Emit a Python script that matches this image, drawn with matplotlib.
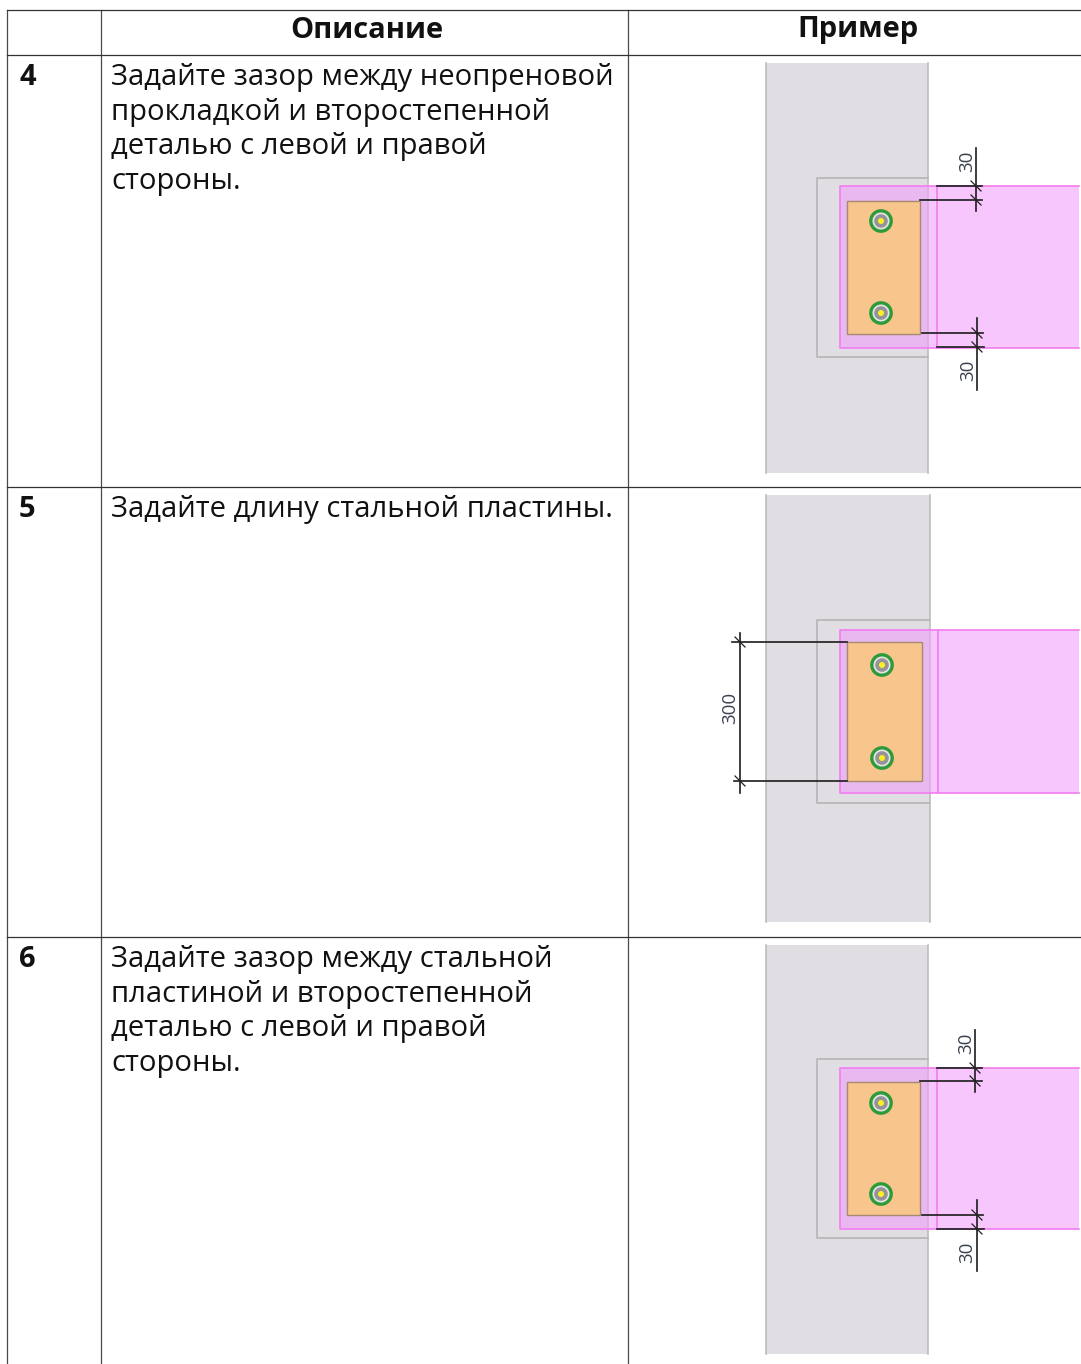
import matplotlib
matplotlib.use("Agg")
import matplotlib.pyplot as plt
from matplotlib.patches import Rectangle, Circle

plt.rcParams['font.family'] = ['Open Sans', 'Noto Sans', 'DejaVu Sans']

W, H = 1081, 1364

# --- TABLE DATA ---
headers = ["Описание", "Пример"]
row_numbers = ["4", "5", "6"]
row_texts = [
    "Задайте зазор между неопреновой\nпрокладкой и второстепенной\nдеталью с левой и правой\nстороны.",
    "Задайте длину стальной пластины.",
    "Задайте зазор между стальной\nпластиной и второстепенной\nдеталью с левой и правой\nстороны.",
]
col_lines = [7, 101, 628]
row_lines = [10, 55, 487, 937]
text_tops = [63, 495, 945]

# --- DRAWING DATA (x0, x1, y0, y1 in image pixels) ---
concrete = [(766, 928, 63, 473), (766, 930, 495, 922), (766, 928, 945, 1354)]
outer = [(817, 928, 178, 357), (817, 929, 620, 803), (817, 928, 1059, 1238)]
beam = [(840, 1079, 186, 348), (840, 1079, 630, 793), (840, 1079, 1068, 1229)]
beam_end = [937, 938, 937]
plate = [(847, 920, 201, 334), (847, 922, 642, 781), (847, 920, 1082, 1215)]
bolts = [(881, 221), (881, 313), (882, 665), (882, 758), (881, 1103), (881, 1194)]

# dimension lines: vertical (x, y0, y1), extension lines (y, x0, x1)
dim_vert = [(976, 148, 211), (977, 318, 390), (740, 633, 793), (975, 1030, 1092), (977, 1200, 1271)]
dim_ext = [(186, 937, 982), (200, 920, 982), (333, 922, 983), (347, 937, 984),
           (642, 732, 847), (781, 734, 847),
           (1068, 937, 982), (1081, 920, 982), (1215, 922, 983), (1229, 937, 984)]
dim_ticks = [(976, 186), (976, 200), (977, 333), (977, 347), (740, 642), (740, 781),
             (975, 1068), (975, 1081), (977, 1215), (977, 1229)]
dim_labels = [("30", 967, 161), ("30", 968, 370), ("300", 730, 708), ("30", 966, 1043), ("30", 967, 1252)]

fig = plt.figure(figsize=(W / 100, H / 100), dpi=100)
ax = fig.add_axes([0, 0, 1, 1])
ax.set_xlim(0, W)
ax.set_ylim(H, 0)
ax.axis('off')


def caja(r, **kw):
    return Rectangle((r[0], r[2]), r[1] - r[0], r[3] - r[2], **kw)


# tabla
for x in col_lines:
    ax.plot([x, x], [row_lines[0], H], color='#4a4a4a', lw=0.9, zorder=1)
for y in row_lines:
    ax.plot([col_lines[0], W], [y, y], color='#333333', lw=0.9, zorder=1)

ax.text(367, 30, headers[0], fontsize=21, fontweight='bold', ha='center', va='center', color='#111111')
ax.text(858, 30, headers[1], fontsize=21, fontweight='bold', ha='center', va='center', color='#111111')

for i in range(3):
    ax.text(19, text_tops[i], row_numbers[i], fontsize=21, fontweight='bold', va='top', color='#111111')
    ax.text(111, text_tops[i], row_texts[i], fontsize=21.1, va='top', color='#111111', linespacing=1.255)

# detalle de la conexion
for i in range(3):
    x0, x1, y0, y1 = concrete[i]
    ax.add_patch(caja(concrete[i], fc='#e0dee2', ec='none', zorder=2))
    ax.plot([x0, x0], [y0, y1], color='#bdbcbf', lw=1.2, zorder=2.5)
    ax.plot([x1, x1], [y0, y1], color='#bdbcbf', lw=1.2, zorder=2.5)
    x0, x1, y0, y1 = outer[i]
    ax.plot([x1, x0, x0, x1], [y0, y0, y1, y1], color='#b5b3b6', lw=1.2, zorder=3)
    ax.add_patch(caja(beam[i], fc='#f0a0fa', ec='none', alpha=0.6, zorder=3.5))
    ax.add_patch(caja(plate[i], fc='#f8c68c', ec='#a58a70', lw=1, zorder=4))
    x0, x1, y0, y1 = beam[i]
    ax.plot([x1, x0, x0, x1], [y0, y0, y1, y1], color='#f27df2', lw=1.2, zorder=5)
    ax.plot([beam_end[i], beam_end[i]], [y0, y1], color='#f27df2', lw=1.2, zorder=5)

for bx, by in bolts:
    ax.add_patch(Circle((bx, by), 10.2, fc='#e4e4e4', ec='#2f9a3a', lw=2.4, zorder=6))
    ax.add_patch(Circle((bx, by), 6.8, fc='#96939a', ec='none', zorder=7))
    ax.add_patch(Circle((bx, by), 3, fc='#f8f020', ec='none', zorder=8))

# cotas
for x, y0, y1 in dim_vert:
    ax.plot([x, x], [y0, y1], color='#1c1c1c', lw=1.2, zorder=9)
for y, x0, x1 in dim_ext:
    ax.plot([x0, x1], [y, y], color='#1c1c1c', lw=1.2, zorder=9)
for x, y in dim_ticks:
    ax.plot([x - 5, x + 5], [y - 5, y + 5], color='#222222', lw=0.9, zorder=9)
for txt, x, y in dim_labels:
    ax.text(x, y, txt, fontsize=13.5, rotation=90, ha='center', va='center', color='#3a4250', zorder=9)

fig.savefig('out.png', dpi=100)
